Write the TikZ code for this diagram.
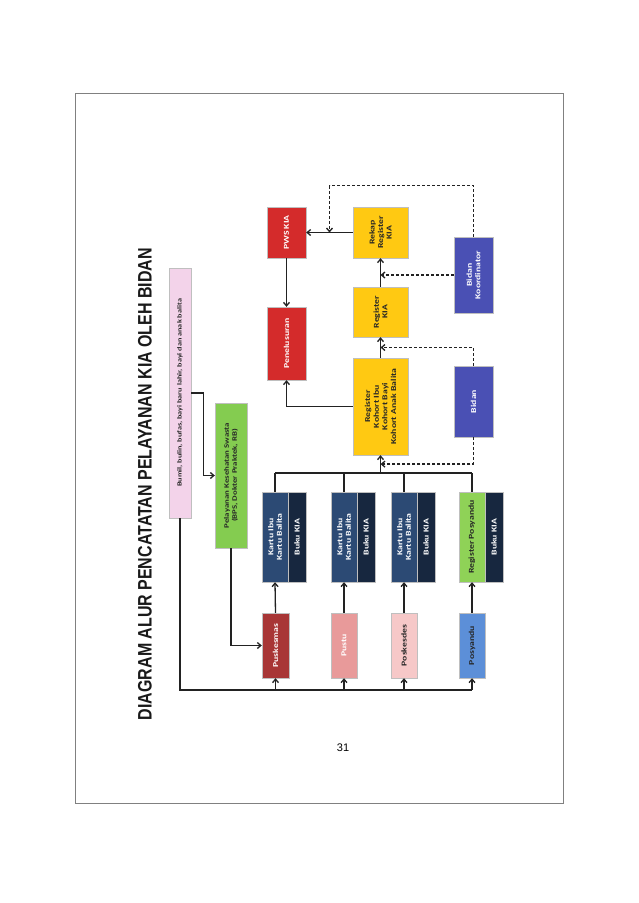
\documentclass[tikz,border=0pt]{standalone}
\usepackage{fontspec}
\setmainfont{Liberation Sans}
\newfontfamily\kotakfont[FakeStretch=1.3]{Carlito}
\newfontfamily\judulfont[FakeStretch=0.82]{Liberation Sans}
\usetikzlibrary{arrows.meta, calc}
\definecolor{kiapink}{HTML}{F3D3EA}
\definecolor{kiagreen}{HTML}{84CC50}
\definecolor{kiayellow}{HTML}{FFC912}
\definecolor{kiablue}{HTML}{4A50B4}
\definecolor{kiared}{HTML}{D42B2B}
\definecolor{kianavy}{HTML}{2C4A74}
\definecolor{kianavyd}{HTML}{17273F}
\definecolor{kiapusk}{HTML}{A83636}
\definecolor{kiapustu}{HTML}{E89A9A}
\definecolor{kiaposk}{HTML}{F6C8C8}
\definecolor{kiaposy}{HTML}{5C8FD8}
\definecolor{kiaregpos}{HTML}{8FD257}
\definecolor{kialine}{HTML}{222222}

\begin{document}
\begin{tikzpicture}[x=1pt, y=-1pt,
    kotak/.style={rotate=90, inner sep=1pt, align=center, text=white, draw=black!25, line width=0.4pt,
                  font=\kotakfont\bfseries\fontsize{7.5}{8.6}\selectfont},
    gelap/.style={text=black!85},
    panah/.style={kialine, line width=1.3pt, -{Straight Barb[length=3.5pt, width=6pt]}},
    garis/.style={kialine, line width=1.3pt},
    putus/.style={kialine, line width=1.3pt, dash pattern=on 3pt off 2pt,
                  -{Straight Barb[length=3.5pt, width=6pt]}}]
    \fill[white] (0,0) rectangle (638,903);
    \useasboundingbox (0,0) rectangle (638,903);
    \draw[gray, line width=0.8pt] (75,93) rectangle (563,803);
    \node[rotate=90, text=black!90, font={\judulfont\bfseries\fontsize{19.5}{22}\selectfont}] (judul) at (145,484)
        {DIAGRAM ALUR PENCATATAN PELAYANAN KIA OLEH BIDAN};
    \node[font=\fontsize{11}{13}\selectfont] (hal) at (343,748) {31};

    \node[kotak, gelap, fill=kiapink, minimum width=250pt, minimum height=22pt,
          font=\kotakfont\bfseries\fontsize{6.3}{7.5}\selectfont] (bumil) at (180,393)
        {Bumil, bulin, bufas, bayi baru lahir, bayi dan anak balita};
    \node[kotak, gelap, fill=kiagreen, minimum width=145pt, minimum height=32pt,
          font=\kotakfont\bfseries\fontsize{6.8}{8.2}\selectfont] (swasta) at (231,475.5)
        {Pelayanan Kesehatan Swasta\\(BPS, Dokter Praktek, RB)};

    \node[kotak, fill=kiapusk, minimum width=65pt, minimum height=27pt] (pusk) at (275.5,645.5) {Puskesmas};
    \node[kotak, fill=kiapustu, minimum width=65pt, minimum height=26pt] (pustu) at (344,645.5) {Pustu};
    \node[kotak, gelap, fill=kiaposk, minimum width=65pt, minimum height=26pt] (poskes) at (404,645.5) {Poskesdes};
    \node[kotak, gelap, fill=kiaposy, minimum width=65pt, minimum height=26pt] (posy) at (472,645.5) {Posyandu};

    \node[kotak, fill=kianavy, minimum width=90pt, minimum height=26pt] (kartu1) at (275,537) {Kartu Ibu\\Kartu Balita};
    \node[kotak, fill=kianavyd, minimum width=90pt, minimum height=18pt] (buku1) at (297,537) {Buku KIA};
    \node[kotak, fill=kianavy, minimum width=90pt, minimum height=26pt] (kartu2) at (344,537) {Kartu Ibu\\Kartu Balita};
    \node[kotak, fill=kianavyd, minimum width=90pt, minimum height=18pt] (buku2) at (366,537) {Buku KIA};
    \node[kotak, fill=kianavy, minimum width=90pt, minimum height=26pt] (kartu3) at (404,537) {Kartu Ibu\\Kartu Balita};
    \node[kotak, fill=kianavyd, minimum width=90pt, minimum height=18pt] (buku3) at (426,537) {Buku KIA};
    \node[kotak, gelap, fill=kiaregpos, minimum width=90pt, minimum height=26pt] (regpos) at (472,537) {Register Posyandu};
    \node[kotak, fill=kianavyd, minimum width=90pt, minimum height=18pt] (buku4) at (494,537) {Buku KIA};

    \node[kotak, gelap, fill=kiayellow, minimum width=97pt, minimum height=55pt] (kohort) at (380.5,406.5)
        {Register\\Kohort Ibu\\Kohort Bayi\\Kohort Anak Balita};
    \node[kotak, gelap, fill=kiayellow, minimum width=50pt, minimum height=55pt] (regkia) at (380.5,312) {Register\\KIA};
    \node[kotak, gelap, fill=kiayellow, minimum width=51pt, minimum height=55pt] (rekap) at (380.5,232.5) {Rekap\\Register\\KIA};
    \node[kotak, fill=kiared, minimum width=51pt, minimum height=39pt] (pws) at (286.5,232.5) {PWS KIA};
    \node[kotak, fill=kiared, minimum width=73pt, minimum height=39pt] (penel) at (286.5,343.5) {Penelusuran};
    \node[kotak, fill=kiablue, minimum width=76pt, minimum height=39pt] (bidkor) at (473.5,275) {Bidan\\Koordinator};
    \node[kotak, fill=kiablue, minimum width=71pt, minimum height=39pt] (bidan) at (473.5,401.5) {Bidan};

    \coordinate (bawah) at (180,690);
    \coordinate (atas) at (380.5,473);
    \draw[panah] (bumil.south) -- ++(12,0) |- (swasta.north);
    \draw[panah] (swasta.west) |- (pusk.north);
    \draw[garis] (bumil.west) |- (posy.west |- bawah);
    \foreach \n in {pusk,pustu,poskes,posy}
        \draw[panah] (\n.west |- bawah) -- (\n.west);
    \draw[panah] (pusk.east) -- (kartu1.west);
    \draw[panah] (pustu.east) -- (kartu2.west);
    \draw[panah] (poskes.east) -- (kartu3.west);
    \draw[panah] (posy.east) -- (regpos.west);
    \foreach \k in {kartu1,kartu2,kartu3,regpos}
        \draw[garis] (\k.east) -- (\k.east |- atas);
    \draw[garis] (kartu1.east |- atas) -- (regpos.east |- atas);
    \draw[panah] (atas) -- (kohort.west);
    \draw[panah] (kohort.east) -- (regkia.west);
    \draw[panah] (regkia.east) -- (rekap.west);
    \draw[panah] (rekap.north) -- (pws.south);
    \draw[panah] (pws.west) -- (penel.east);
    \draw[panah] (kohort.north) -| (penel.west);
    \draw[putus] (bidan.west) |- ($(atas)!0.5!(kohort.west)$);
    \draw[putus] (bidan.east) |- ($(kohort.east)!0.5!(regkia.west)$);
    \draw[putus] (bidkor.north) -- (bidkor.north -| regkia.east);
    \draw[putus] (bidkor.east) -- ++(0,-51) -| ($(rekap.north)!0.5!(pws.south)$);
\end{tikzpicture}
\end{document}
